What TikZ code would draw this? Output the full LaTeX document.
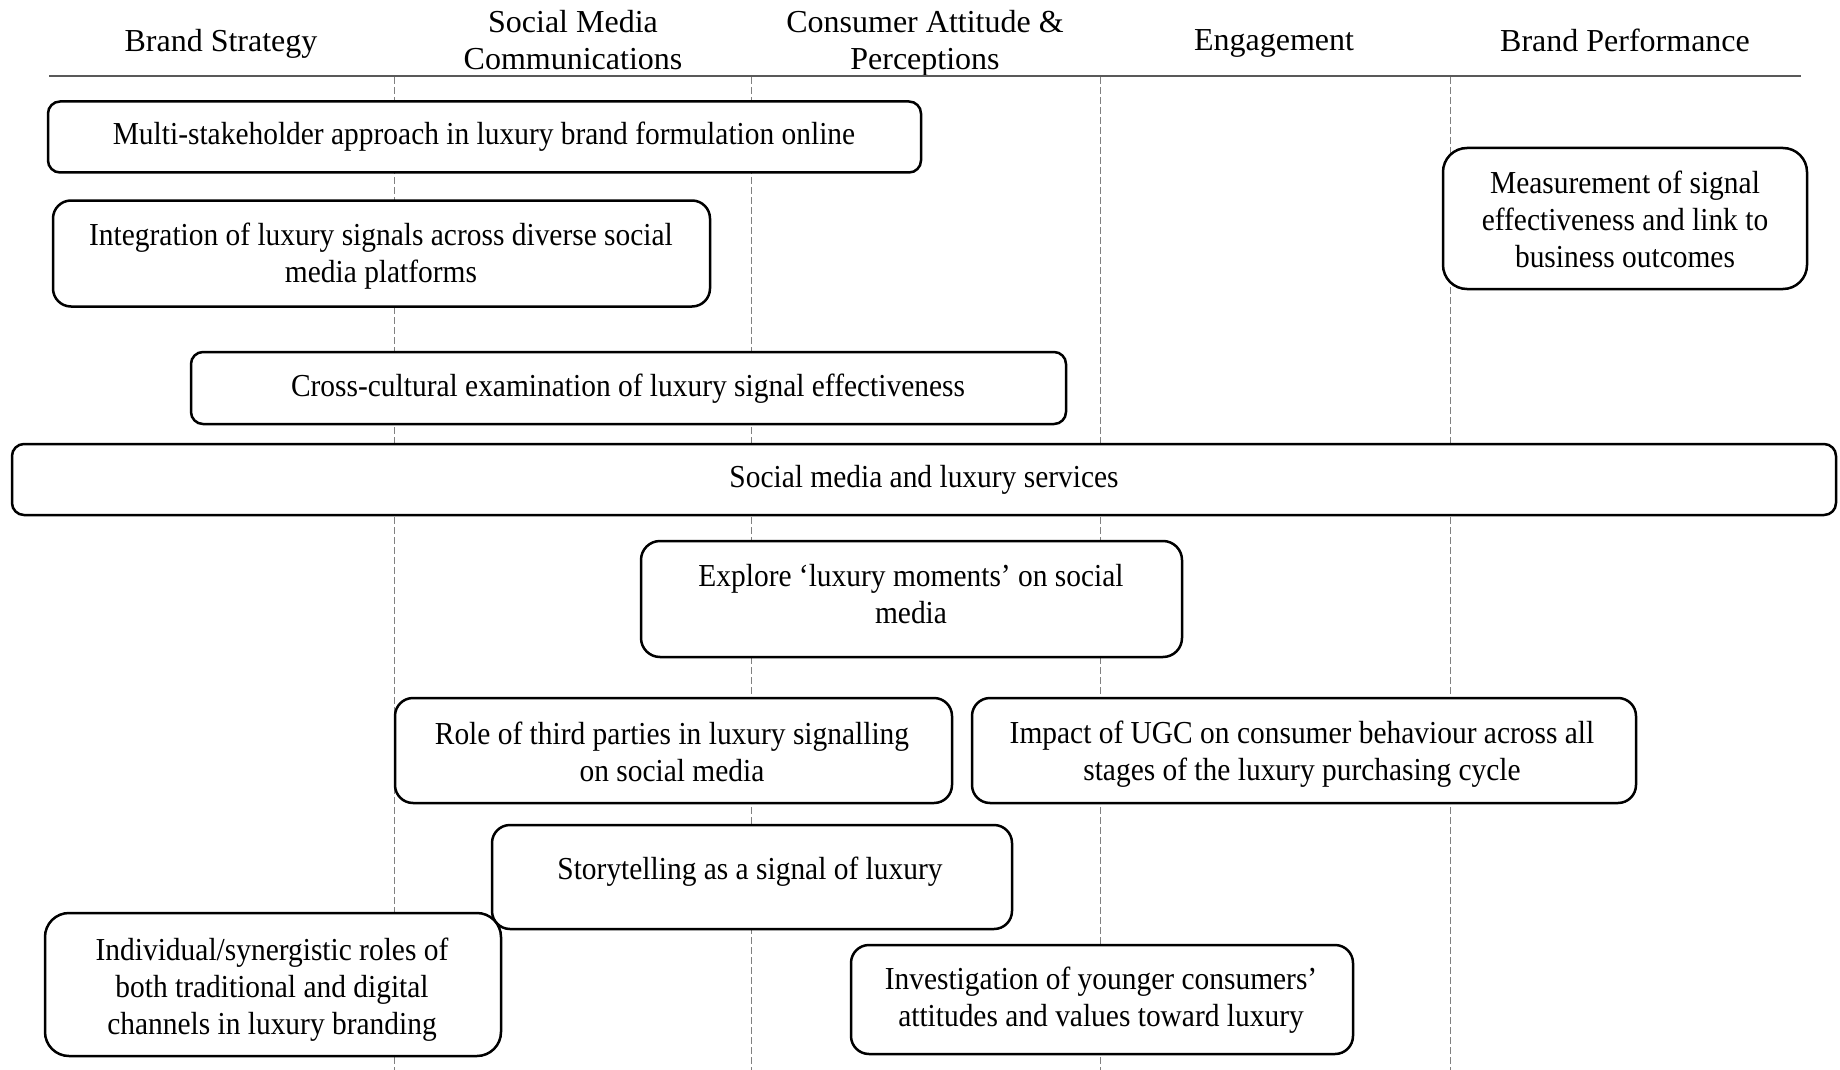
\documentclass[tikz,border=0pt]{standalone}
\usepackage{fontspec}
\setmainfont{Liberation Serif}
\newfontfamily\boxfont[FakeStretch=0.92,Ligatures=TeX]{Liberation Serif}
\begin{document}
\begin{tikzpicture}[x=1pt,y=-1pt,
  lbl/.style={inner sep=0pt, align=center, font=\fontsize{32}{37}\selectfont},
  blbl/.style={lbl, font=\boxfont\fontsize{32}{37}\selectfont},
  box/.style={draw=black, line width=2.5pt, fill=white, inner sep=0pt},
  lane/.style={draw=gray, line width=0.8pt, dash pattern=on 7pt off 3pt},
  rule/.style={draw=black!65, line width=1.6pt}]
\useasboundingbox (0,0) rectangle (1840,1070);

% column headings
\node[lbl] (h1) at (221,43.5) {Brand Strategy};
\node[lbl] (h2) at (573,40) {Social Media\\Communications};
\node[lbl] (h3) at (925,43) {Consumer Attitude \&\\Perceptions};
\node[lbl] (h4) at (1274,43.5) {Engagement};
\node[lbl] (h5) at (1625,40) {Brand Performance};

% heading rule and lane separators
\coordinate (rl) at (49,76);
\coordinate (rr) at (1801,76);
\draw[rule] (rl) -- (rr);
\foreach \xx/\nm in {394/a,751/b,1100/c,1450/d}{
  \coordinate (top\nm) at (\xx,77);
  \coordinate (bot\nm) at (\xx,1070);
  \draw[lane] (top\nm) -- (bot\nm);
}

% research themes
\node[box, minimum width=873pt, minimum height=71pt, rounded corners=12pt] (b1) at (484.5,137) {};
\node[blbl] (t1) at (484,136.5) {Multi-stakeholder approach in luxury brand formulation online};

\node[box, minimum width=657pt, minimum height=106pt, rounded corners=18pt] (b2) at (381.5,253.5) {};
\node[blbl] (t2) at (381,256) {Integration of luxury signals across diverse social\\media platforms};

\node[box, minimum width=364pt, minimum height=141pt, rounded corners=24pt] (b3) at (1625,218.5) {};
\node[blbl] (t3) at (1625,219) {Measurement of signal\\effectiveness and link to\\business outcomes};

\node[box, minimum width=875pt, minimum height=72pt, rounded corners=12pt] (b4) at (628.5,388) {};
\node[blbl] (t4) at (628,388.5) {Cross-cultural examination of luxury signal effectiveness};

\node[box, minimum width=1824pt, minimum height=71pt, rounded corners=12pt] (b5) at (924,479.5) {};
\node[blbl] (t5) at (924,479.5) {Social media and luxury services};

\node[box, minimum width=541pt, minimum height=116pt, rounded corners=19pt] (b6) at (911.5,599) {};
\node[blbl] (t6) at (911,594.5) {Explore ‘luxury moments’ on social\\media};

\node[box, minimum width=557pt, minimum height=105pt, rounded corners=18pt] (b7) at (673.5,750.5) {};
\node[blbl] (t7) at (672,751.5) {Role of third parties in luxury signalling\\on social media};

\node[box, minimum width=664pt, minimum height=105pt, rounded corners=18pt] (b8) at (1304,750.5) {};
\node[blbl] (t8) at (1302,754) {Impact of UGC on consumer behaviour across all\\stages of the luxury purchasing cycle};

\node[box, minimum width=520pt, minimum height=104pt, rounded corners=18pt] (b9) at (752,877) {};
\node[blbl] (t9) at (750,871.5) {Storytelling as a signal of luxury};

\node[box, minimum width=456pt, minimum height=143pt, rounded corners=24pt] (b10) at (273,984.5) {};
\node[blbl] (t10) at (272,990) {Individual/synergistic roles of\\both traditional and digital\\channels in luxury branding};

\node[box, minimum width=502pt, minimum height=109pt, rounded corners=18pt] (b11) at (1102,999.5) {};
\node[blbl] (t11) at (1101,1000.5) {Investigation of younger consumers’\\attitudes and values toward luxury};
\end{tikzpicture}
\end{document}
